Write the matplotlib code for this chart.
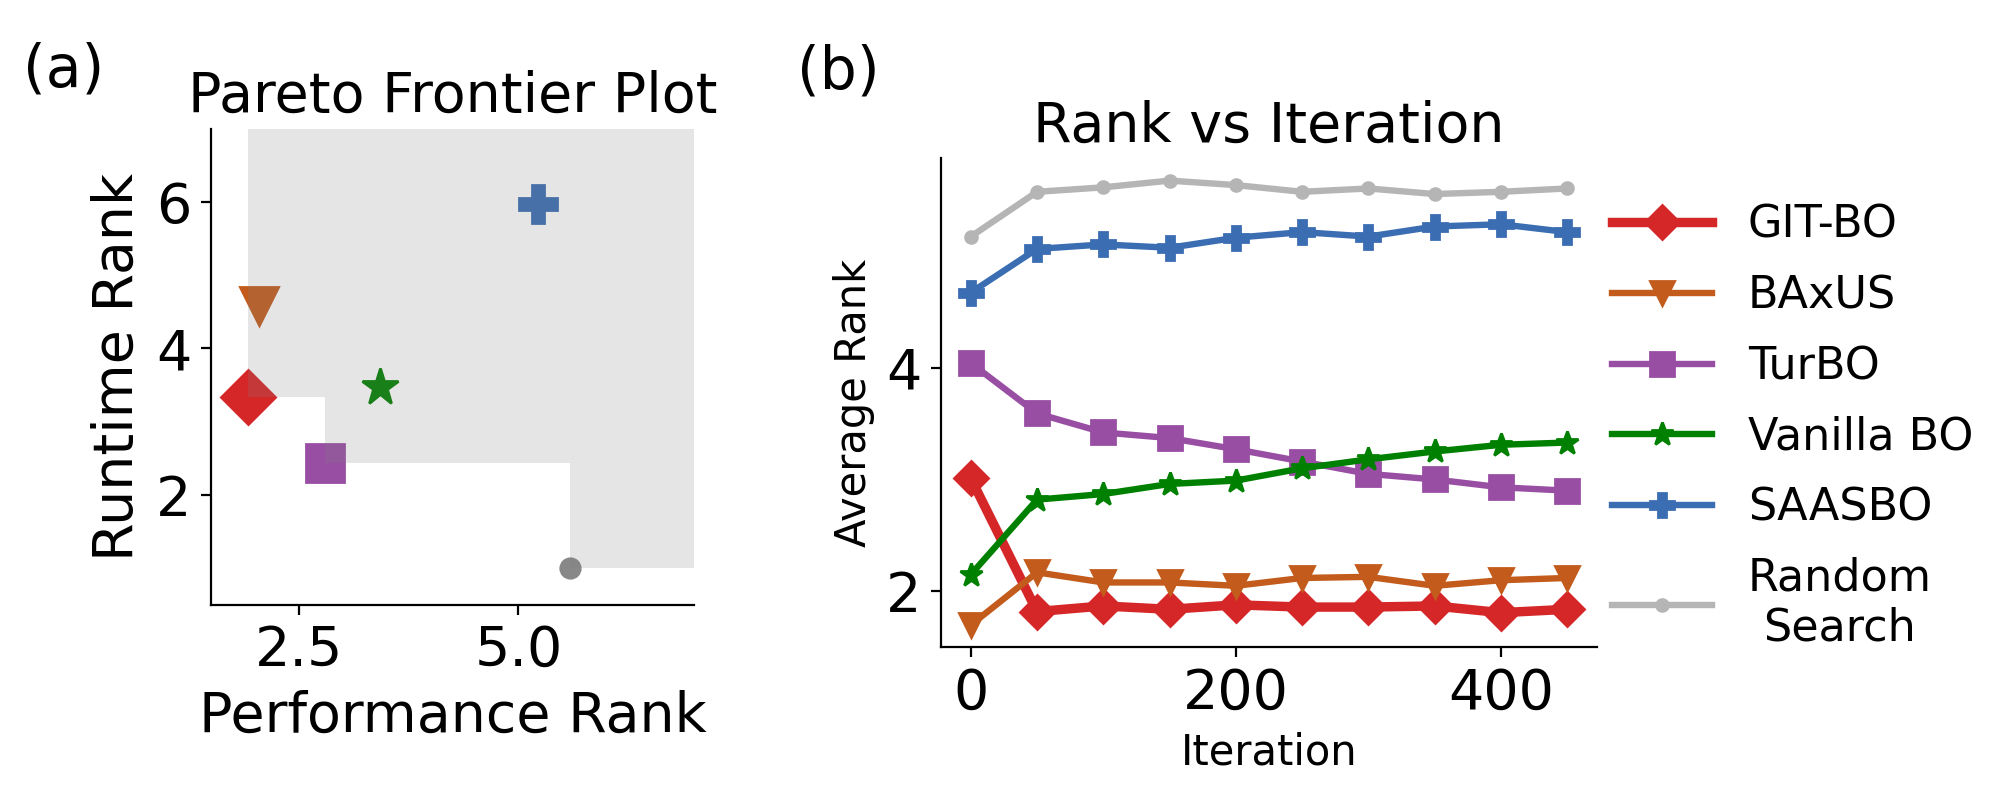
import numpy as np
import matplotlib
matplotlib.use("Agg")
import matplotlib.pyplot as plt

plt.rcParams['font.family'] = ['DejaVu Sans']

# ---- data ----
methods = ['GIT-BO', 'BAxUS', 'TurBO', 'Vanilla BO', 'SAASBO', 'Random\nSearch']
colors = ['#d62728', '#c25b1b', '#984ea3', 'green', '#3b6db2', '#b5b5b5']
markers = ['D', 'v', 's', '*', 'P', '.']

# (a) pareto
perf_rank = [1.92, 2.05, 2.80, 3.42, 5.22, 5.59]
runtime_rank = [3.34, 4.58, 2.44, 3.48, 5.97, 1.00]
pareto_colors = ['#d62728', '#c25b1b', '#984ea3', 'green', '#3b6db2', '#888888']

# (b) rank vs iteration
iterations = [0, 50, 100, 150, 200, 250, 300, 350, 400, 450]
avg_rank = {
    'GIT-BO':     [3.01, 1.82, 1.87, 1.84, 1.88, 1.86, 1.86, 1.87, 1.81, 1.84],
    'BAxUS':      [1.70, 2.17, 2.08, 2.08, 2.05, 2.12, 2.13, 2.05, 2.10, 2.12],
    'TurBO':      [4.04, 3.59, 3.42, 3.37, 3.27, 3.16, 3.05, 3.00, 2.93, 2.90],
    'Vanilla BO': [2.15, 2.82, 2.87, 2.96, 2.99, 3.10, 3.18, 3.25, 3.31, 3.33],
    'SAASBO':     [4.67, 5.06, 5.10, 5.07, 5.16, 5.21, 5.17, 5.26, 5.28, 5.21],
    'Random\nSearch': [5.17, 5.57, 5.61, 5.67, 5.63, 5.57, 5.60, 5.55, 5.57, 5.60],
}

fig = plt.figure(figsize=(10, 4), dpi=200)
ax1 = fig.add_axes([0.1055, 0.244, 0.2415, 0.595])
ax2 = fig.add_axes([0.4705, 0.191, 0.328, 0.611])

# ---- panel (a) ----
xmin, xmax, ymin, ymax = 1.5, 7.0, 0.5, 7.0
for i in range(len(methods)):
    ax1.plot(perf_rank[i], runtime_rank[i], marker=markers[i], color=pareto_colors[i],
             markersize=14, linestyle='none', zorder=2)

# dominated region from pareto front
order = np.argsort(perf_rank)
front_x, front_y = [], []
best = np.inf
for k in order:
    if runtime_rank[k] < best:
        best = runtime_rank[k]
        front_x.append(perf_rank[k])
        front_y.append(runtime_rank[k])
front_x.append(xmax)
front_y.append(front_y[-1])
ax1.fill_between(front_x, front_y, ymax, step='post', color='gray', alpha=0.2,
                 linewidth=0, zorder=3)

ax1.set_xlim(xmin, xmax)
ax1.set_ylim(ymin, ymax)
ax1.set_xticks([2.5, 5.0])
ax1.set_yticks([2, 4, 6])
ax1.tick_params(labelsize=20)
ax1.set_xlabel('Performance Rank', fontsize=20)
ax1.set_ylabel('Runtime Rank', fontsize=20)
ax1.set_title('Pareto Frontier Plot', fontsize=20)
ax1.spines['top'].set_visible(False)
ax1.spines['right'].set_visible(False)

# ---- panel (b) ----
for i, m in enumerate(methods):
    lw = 3.4 if m == 'GIT-BO' else 2.3
    ax2.plot(iterations, avg_rank[m], marker=markers[i], color=colors[i],
             linewidth=lw, markersize=8.5, label=m)
ax2.set_yticks([2, 4])
ax2.tick_params(labelsize=20)
ax2.set_xlabel('Iteration', fontsize=15)
ax2.set_ylabel('Average Rank', fontsize=15)
ax2.set_title('Rank vs Iteration', fontsize=20)
ax2.spines['top'].set_visible(False)
ax2.spines['right'].set_visible(False)
leg = ax2.legend(loc='center left', bbox_to_anchor=(0.962, 0.451), frameon=False,
                 fontsize=16, handlelength=2.25, labelspacing=0.62)
for t in leg.get_texts():
    t.set_multialignment('center')

fig.text(0.0115, 0.9125, '(a)', fontsize=21, va='center', ha='left')
fig.text(0.3985, 0.91, '(b)', fontsize=21, va='center', ha='left')

fig.savefig('out.png', dpi=200)
